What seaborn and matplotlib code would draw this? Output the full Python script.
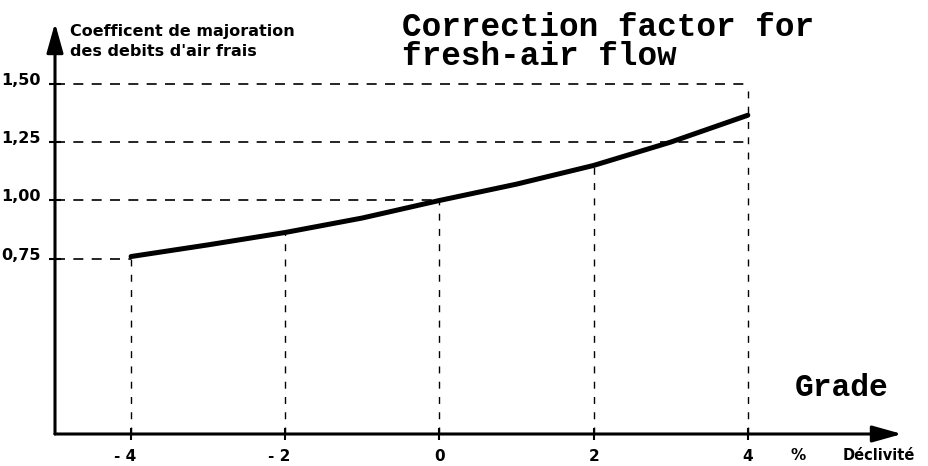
import matplotlib
matplotlib.use("Agg")
import matplotlib.pyplot as plt
import matplotlib.transforms as mtransforms
import pandas as pd
import seaborn as sns

# Correction factor for fresh-air flow versus road grade (%)
grade = [-4, -3, -2, -1, 0, 1, 2, 3, 4]
factor = [0.76, 0.81, 0.863, 0.925, 1.00, 1.07, 1.15, 1.25, 1.365]

x_ticks = [-4, -2, 0, 2, 4]
x_tick_labels = ["- 4", "- 2", "0", "2", "4"]
y_ticks = [0.75, 1.00, 1.25, 1.50]
y_tick_labels = ["0,75", "1,00", "1,25", "1,50"]

# reference guides: horizontal level -> grade where the guide stops
guide_levels = [1.50, 1.25, 1.00, 0.75]
guide_ends = [4, 4, 0, -4]

sns.set_style("white")
plt.rcParams["font.family"] = ["DejaVu Sans"]
plt.rcParams["font.weight"] = "bold"
plt.rcParams["text.color"] = "black"
plt.rcParams["xtick.color"] = "black"
plt.rcParams["ytick.color"] = "black"
plt.rcParams["xtick.labelcolor"] = "black"
plt.rcParams["ytick.labelcolor"] = "black"

W, H = 929, 466
fig = plt.figure(figsize=(W / 100, H / 100), dpi=100)
ax = fig.add_axes([55 / W, (H - 434) / H, (902 - 55) / W, (434 - 23) / H])

df = pd.DataFrame({"grade": grade, "factor": factor})
sns.lineplot(data=df, x="grade", y="factor", ax=ax, color="black",
             lw=3.6, solid_capstyle="round", zorder=5)

ax.set_xlim(-4.987, 6.0)
ax.set_ylim(0, 1.76)

# dashed guides
dash = dict(color="black", lw=1.2, ls=(0, (6, 5)))
xmin = ax.get_xlim()[0]
for level, x_end in zip(guide_levels, guide_ends):
    ax.plot([xmin, x_end], [level, level], **dash)

lookup = dict(zip(grade, factor))
for g in x_ticks:
    top = max(guide_levels) if g == max(x_ticks) else lookup[g]
    ax.plot([g, g], [0, top], color="black", lw=1.0, ls=(0, (5, 6)))

# axes drawn as arrows
for s in ax.spines.values():
    s.set_visible(False)
arrow = dict(arrowstyle="-|>,head_length=1.0,head_width=0.28",
             color="black", lw=2.2, shrinkA=0, shrinkB=0, mutation_scale=18)
ax.annotate("", xy=(1, 0), xytext=(0, 0), xycoords="axes fraction",
            textcoords="axes fraction", arrowprops=arrow)
ax.annotate("", xy=(0, 1), xytext=(0, 0), xycoords="axes fraction",
            textcoords="axes fraction", arrowprops=arrow)

ax.set_xticks(x_ticks)
ax.set_xticklabels(x_tick_labels, fontsize=11, fontweight="bold")
ax.set_yticks(y_ticks)
ax.set_yticklabels(y_tick_labels, fontsize=11.5, fontweight="bold")
ax.tick_params(axis="both", direction="inout", length=9, width=1.5,
               color="black", labelcolor="black", bottom=True, left=True)
ax.tick_params(axis="x", pad=6)
ax.tick_params(axis="y", pad=6)
ax.set_xlabel("")
ax.set_ylabel("")

# negative labels: keep the digit centred on its tick
for lab in ax.get_xticklabels():
    if lab.get_text().startswith("-"):
        lab.set_transform(lab.get_transform() +
                          mtransforms.ScaledTranslation(-6 / 100, 0, fig.dpi_scale_trans))
for lab in ax.get_yticklabels():
    lab.set_transform(lab.get_transform() +
                      mtransforms.ScaledTranslation(0, 5 / 100, fig.dpi_scale_trans))

# texts
mono = ["Liberation Mono", "DejaVu Sans Mono"]
fig.text(402 / W, 1 - 36 / H, "Correction factor for", family=mono,
         fontsize=23.5, fontweight="bold", va="baseline", ha="left", color="black")
fig.text(402 / W, 1 - 65 / H, "fresh-air flow", family=mono,
         fontsize=23.5, fontweight="bold", va="baseline", ha="left", color="black")
fig.text(795 / W, 1 - 396 / H, "Grade", family=mono,
         fontsize=22.5, fontweight="bold", va="baseline", ha="left", color="black")

fig.text(70 / W, 1 - 36 / H, "Coefficent de majoration",
         fontsize=11.5, fontweight="bold", va="baseline", ha="left", color="black")
fig.text(70 / W, 1 - 56 / H, "des debits d'air frais",
         fontsize=11.5, fontweight="bold", va="baseline", ha="left", color="black")

fig.text(798 / W, 1 - 456 / H, "%", fontsize=11, fontweight="bold",
         va="center", ha="center", color="black")
fig.text(843 / W, 1 - 456 / H, "Déclivité", fontsize=10.5, fontweight="bold",
         va="center", ha="left", color="black")

fig.savefig("out.png", dpi=100, facecolor="white")
